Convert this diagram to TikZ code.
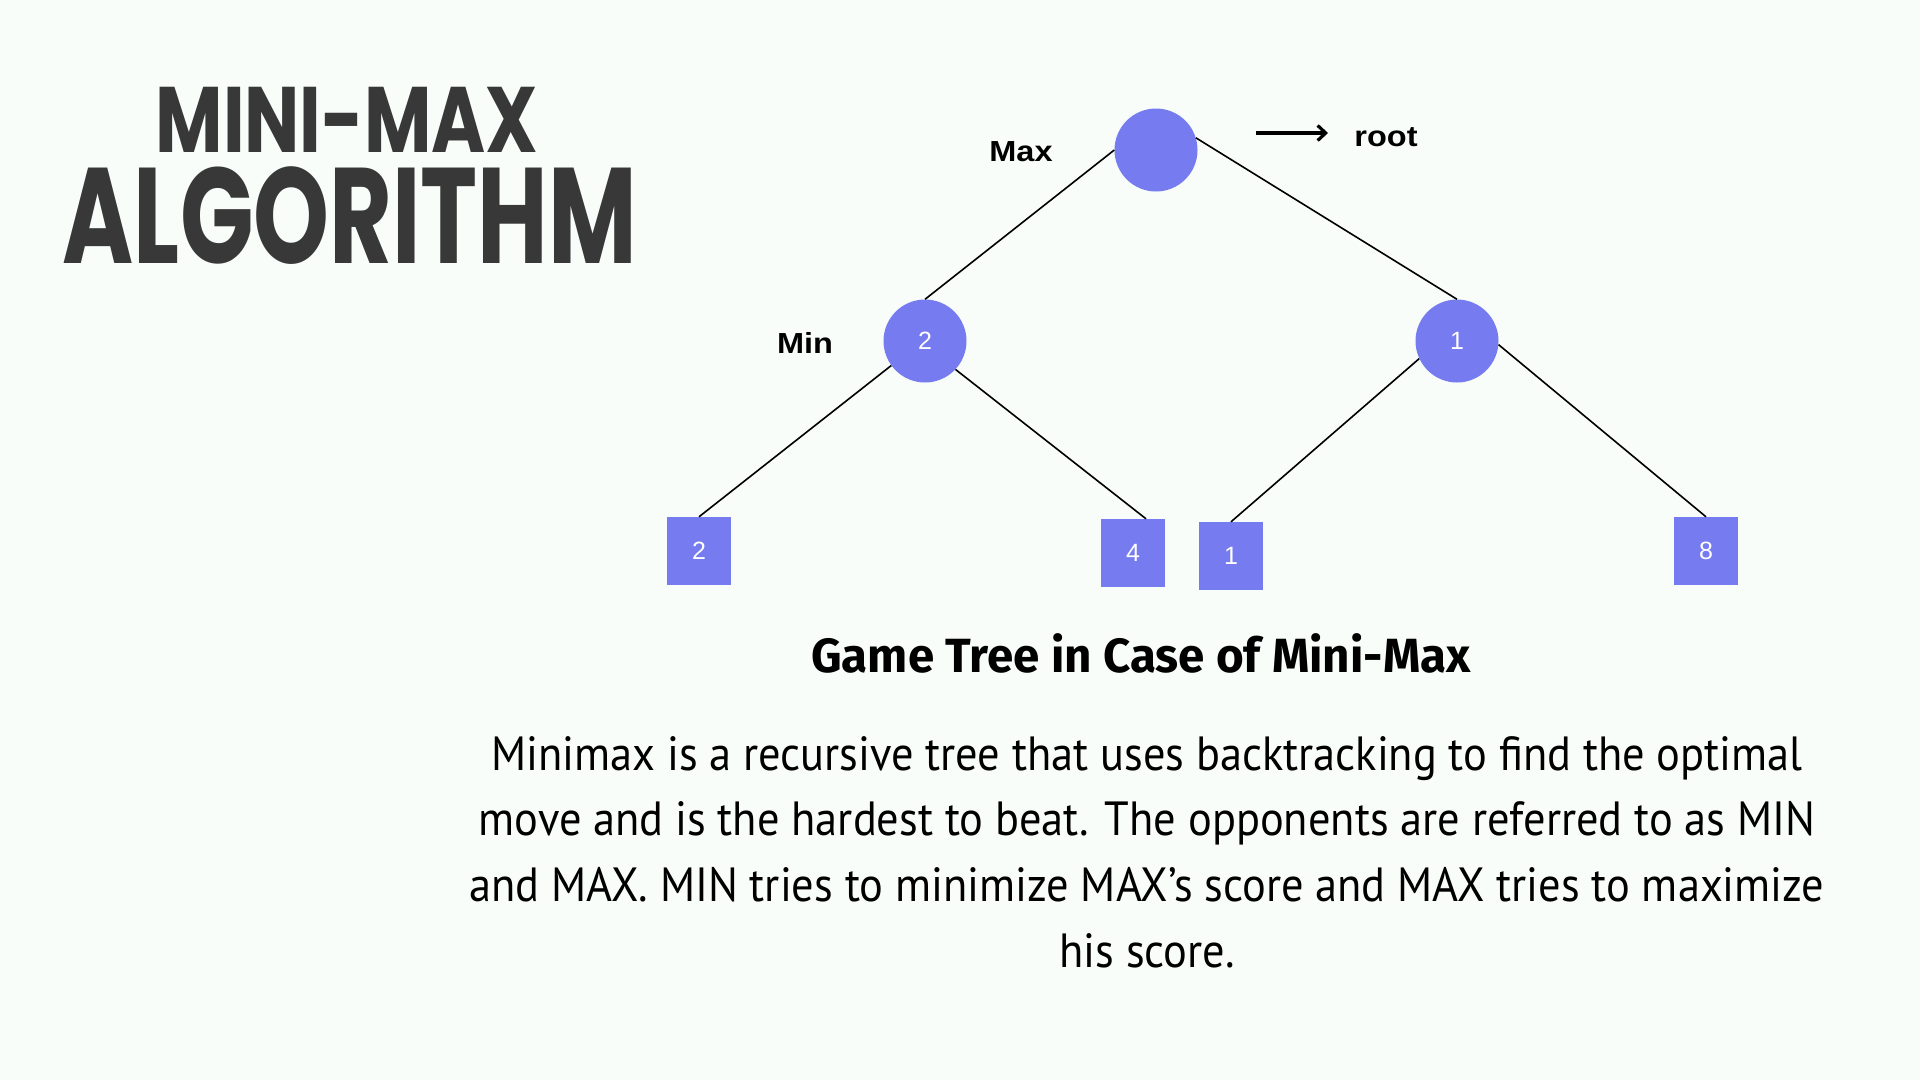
\documentclass[tikz,border=0pt]{standalone}
\usepackage{graphicx}
\usepackage{fontspec}
\setmainfont{Liberation Sans}
\newfontfamily\titlefont{Poppins}
\newfontfamily\bodyfont{PT Sans}
\newfontfamily\capfont{Fira Sans}
\usetikzlibrary{arrows.meta}

\definecolor{bgmint}{HTML}{F8FDFA}
\definecolor{nodeblue}{HTML}{767CF0}
\definecolor{titlegrey}{HTML}{383838}

\newcommand{\squeeze}[2]{\scalebox{#1}[1]{#2}}

\begin{document}
\begin{tikzpicture}[x=1pt,y=-1pt,
  maxmin/.style={circle,fill=nodeblue,minimum size=83pt,inner sep=0pt,text=white,font=\fontsize{25}{25}\selectfont},
  leaf/.style={rectangle,fill=nodeblue,minimum width=64pt,minimum height=68pt,inner sep=0pt,text=white,font=\fontsize{25}{25}\selectfont},
  lbl/.style={inner sep=0pt,font=\bfseries\fontsize{29}{29}\selectfont},
  edge/.style={line width=1.6pt},
  body/.style={anchor=base,inner sep=0pt,font=\bodyfont\fontsize{48}{48}\selectfont}]
\fill[bgmint] (0,0) rectangle (1920,1080);
\useasboundingbox (0,0) rectangle (1920,1080);

% title
\node[inner sep=0pt,text height=65pt,text depth=0pt,text=titlegrey,font=\titlefont\bfseries\fontsize{93}{93}\selectfont] (title1) at (347,120) {\squeeze{0.79}{MINI-MAX}};
\node[inner sep=0pt,text height=95pt,text depth=0pt,text=titlegrey,font=\titlefont\bfseries\fontsize{136}{136}\selectfont] (title2) at (350,216) {\squeeze{0.71}{ALGORITHM}};

% game tree
\node[maxmin] (root) at (1156,150) {};
\node[maxmin] (minl) at (925,341) {2};
\node[maxmin] (minr) at (1457,341) {1};
\node[leaf] (l2) at (699,551) {2};
\node[leaf] (l4) at (1133,553) {4};
\node[leaf] (l1) at (1231,556) {1};
\node[leaf] (l8) at (1706,551) {8};

\node[lbl] (maxlbl) at (1021,152) {\squeeze{1.12}{Max}};
\node[lbl] (minlbl) at (805,343) {\squeeze{1.12}{Min}};
\node[lbl] (rootlbl) at (1386,137) {\squeeze{1.12}{root}};
\coordinate (arrs) at (1256,133);
\coordinate (arre) at (1328,133);
\draw[line width=3.2pt,-{Straight Barb[length=8pt,width=15pt,line width=3.2pt]}] (arrs) -- (arre);

\draw[edge] (root.west) -- (minl.north);
\draw[edge] (root.17) -- (minr.north);
\draw[edge] (minl.216) -- (l2.north);
\draw[edge] (minl.-43) -- ([xshift=13pt]l4.north);
\draw[edge] (minr.205) -- (l1.north);
\draw[edge] (minr.-5) -- (l8.north);

% caption and text
\node[inner sep=0pt,font=\capfont\bfseries\fontsize{48}{48}\selectfont] (caption) at (1141,653) {\squeeze{0.99}{Game Tree in Case of Mini-Max}};
\node[body] (line1) at (1147,770) {\squeeze{0.925}{Minimax is a recursive tree that uses backtracking to find the optimal}};
\node[body] (line2) at (1147,835) {\squeeze{0.925}{move and is the hardest to beat. The opponents are referred to as MIN}};
\node[body] (line3) at (1147,901) {\squeeze{0.925}{and MAX. MIN tries to minimize MAX’s score and MAX tries to maximize}};
\node[body] (line4) at (1147,967) {\squeeze{0.925}{his score.}};
\end{tikzpicture}
\end{document}
